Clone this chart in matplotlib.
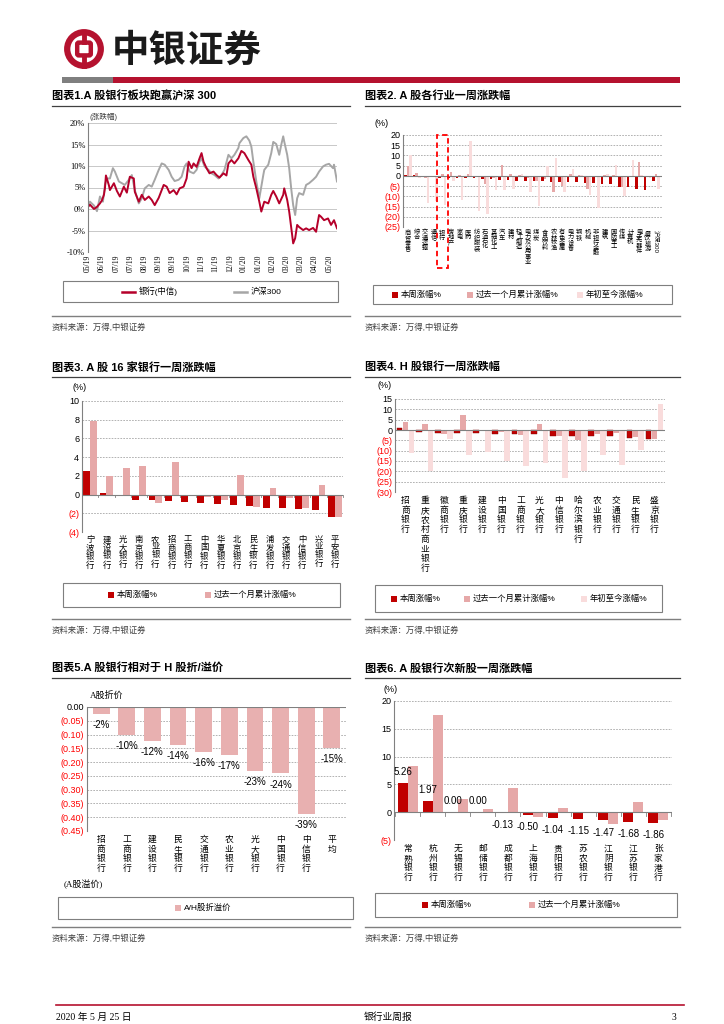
import numpy as np
import matplotlib
matplotlib.use('Agg')
import matplotlib.pyplot as plt
from matplotlib.patches import Rectangle, Circle, FancyBboxPatch
from matplotlib.lines import Line2D

plt.rcParams['font.family'] = ['Liberation Sans', 'Noto Sans CJK SC', 'DejaVu Sans']
plt.rcParams['axes.unicode_minus'] = False

W, H = 724, 1024
DARK = '#C00000'
MID = '#E6A8A8'
LIGHT = '#F9DCDC'
NEG = '#FF0000'
GRID = '#A6A6A6'
BRAND = '#B5122F'

# ---------------- data ----------------
# chart 1: cumulative return (%), (trading day, value)
bank_line = [(0, 0.5), (2, 1.0), (6, 0.0), (9, 0.5), (12, 1.3), (14, 2.0), (16, 3.3), (17, 4.8), (18, 7.8),
             (21, 5.5), (22, 4.4), (26, 6.0), (29, 4.2), (32, 2.9), (36, 5.2), (39, 3.8), (42, 7.5), (46, 7.1),
             (47, 4.0), (51, 1.7), (54, 3.3), (57, 2.1), (61, 2.9), (64, 2.1), (67, 0.9), (71, 2.6), (76, 5.6),
             (79, 5.2), (82, 3.7), (86, 4.4), (89, 3.4), (92, 4.8), (96, 5.2), (99, 7.1), (101, 11.0), (104, 9.5),
             (106, 10.6), (109, 9.8), (112, 11.8), (114, 13.0), (116, 11.0), (119, 9.5), (122, 8.3), (126, 8.7),
             (129, 7.9), (132, 7.3), (136, 8.3), (139, 7.8), (141, 10.6), (144, 11.4), (147, 10.6), (151, 11.8),
             (154, 13.5), (157, 13.0), (161, 11.4), (164, 10.3), (166, 7.5), (169, 4.8), (172, 1.7), (174, -0.6),
             (177, 1.7), (181, 1.3), (184, 3.3), (186, 4.2), (189, 2.9), (192, 1.3), (196, 3.3), (197, 4.8),
             (200, 2.1), (202, -0.6), (205, -6.1), (206, -8.0), (208, -6.8), (210, -3.7), (212, -4.2), (216, -4.9),
             (219, -4.5), (222, -4.9), (226, -4.4), (229, -5.3), (232, -1.4), (234, -1.8), (237, -2.6), (241, -2.2),
             (244, -3.7), (247, -2.6), (250, -4.5)]
hs300_line = [(0, 0.5), (2, 1.7), (6, 0.8), (9, -0.5), (12, 2.9), (15, 1.7), (17, 5.6), (19, 7.1), (22, 7.1),
              (25, 9.5), (27, 8.7), (31, 6.4), (34, 6.0), (37, 5.6), (41, 6.8), (44, 7.9), (47, 4.4), (51, 1.3),
              (54, 2.5), (57, 4.8), (61, 5.6), (64, 5.2), (67, 6.8), (71, 9.1), (74, 10.6), (77, 10.3), (81, 9.1),
              (84, 7.5), (87, 6.5), (91, 6.8), (94, 7.5), (97, 9.9), (99, 10.6), (102, 8.7), (106, 8.3), (109, 9.1),
              (112, 11.0), (114, 11.8), (117, 9.9), (121, 9.1), (124, 8.3), (127, 7.9), (131, 7.1), (134, 7.9),
              (137, 9.1), (141, 12.6), (144, 11.8), (147, 12.6), (151, 14.2), (152, 15.3), (156, 16.5), (159, 16.9),
              (162, 15.9), (164, 14.5), (166, 11.0), (169, 6.4), (172, 2.5), (176, 7.9), (177, 9.1), (181, 10.3),
              (184, 13.0), (186, 15.6), (189, 15.1), (192, 12.6), (194, 14.9), (196, 16.9), (197, 15.7), (200, 12.6),
              (202, 9.5), (204, 4.8), (206, 0.9), (208, -1.4), (210, 2.5), (212, 3.7), (216, 3.3), (219, 5.6),
              (222, 6.0), (226, 6.8), (229, 7.5), (232, 8.7), (236, 9.9), (239, 10.3), (242, 10.5), (246, 9.5),
              (247, 10.3), (250, 6.4)]
date_labels = ['05/19', '06/19', '07/19', '07/19', '08/19', '09/19', '09/19', '10/19', '11/19', '11/19',
               '12/19', '01/20', '01/20', '02/20', '03/20', '03/20', '04/20', '05/20']

# chart 2: industries
ind_labels = ['商贸零售', '综合', '交通运输', '通信', '银行', '房地产', '家电', '医药', '纺织服装', '石油石化',
              '基础化工', '汽车', '建材', '轻工制造', '电力及公用事业', '煤炭', '食品饮料', '农林牧渔', '有色金属',
              '电力设备', '钢铁', '机械', '非银行金融', '建筑', '国防军工', '传媒', '计算机', '电子元器件',
              '餐饮旅游', '沪深300']
ind_week = [0.4, 0.2, -0.6, -0.7, -0.8, -0.9, -1.0, -1.1, -1.2, -1.5, -1.7, -1.9, -2.1, -2.3, -2.5, -2.6, -2.7,
            -2.8, -2.9, -3.0, -3.1, -3.3, -3.5, -3.8, -4.1, -5.3, -5.5, -6.3, -6.8, -2.4]
ind_month = [5.0, 1.5, -1.0, -0.5, 1.0, 2.0, 0.5, 1.0, -0.5, -4.2, -1.0, 5.4, 1.0, 0.3, -1.0, -2.5, -1.5, -8.0,
             -5.0, 1.0, 0.5, -6.5, 0.0, 0.5, 0.5, -5.5, 0.0, 6.7, -0.5, 1.0]
ind_ytd = [10.0, -1.0, -13.3, -12.5, -14.0, -2.5, -11.7, 17.0, -17.4, -18.4, -6.8, -7.0, -6.3, 1.0, -8.0, -14.5,
           4.9, 8.9, -8.0, 3.4, 0.5, -9.4, -15.8, 1.0, 5.4, -10.0, 7.8, 0.5, -1.0, -6.5]

# chart 3: 16 A-share banks
a_banks = ['宁波银行', '建设银行', '光大银行', '南京银行', '农业银行', '招商银行', '工商银行', '中国银行',
           '华夏银行', '北京银行', '民生银行', '浦发银行', '交通银行', '中信银行', '兴业银行', '平安银行']
a_week = [2.53, 0.18, 0.0, -0.53, -0.60, -0.68, -0.78, -0.90, -0.96, -1.07, -1.17, -1.39, -1.39, -1.57, -1.70, -2.38]
a_month = [7.86, 2.00, 2.80, 3.10, -0.90, 3.45, 0.0, -0.25, -0.60, 2.10, -1.30, 0.75, -0.35, -1.39, 1.00, -2.42]

# chart 4: H-share banks
h_banks = ['招商银行', '重庆农村商业银行', '徽商银行', '重庆银行', '建设银行', '中国银行', '工商银行', '光大银行',
           '中信银行', '哈尔滨银行', '农业银行', '交通银行', '民生银行', '盛京银行']
h_week = [0.8, -1.1, -1.3, -1.6, -1.6, -1.8, -2.0, -2.1, -2.8, -2.8, -2.9, -3.1, -3.7, -4.5]
h_month = [3.7, 2.9, -2.0, 7.3, -0.3, -1.1, -2.6, 2.8, -2.9, -4.9, -2.1, -1.6, -3.2, -4.4]
h_ytd = [-11.0, -19.9, -4.4, -12.3, -10.8, -15.0, -17.6, -15.8, -23.1, -19.9, -11.9, -16.9, -9.8, 12.7]

# chart 5: A/H premium
ah_banks = ['招商银行', '工商银行', '建设银行', '民生银行', '交通银行', '农业银行', '光大银行', '中国银行',
            '中信银行', '平均']
ah_prem = [-0.024, -0.100, -0.124, -0.139, -0.163, -0.174, -0.231, -0.241, -0.388, -0.148]

# chart 6: newly listed banks
new_banks = ['常熟银行', '杭州银行', '无锡银行', '邮储银行', '成都银行', '上海银行', '贵阳银行', '苏农银行',
             '江阴银行', '江苏银行', '张家港行']
new_week = [5.26, 1.97, 0.00, 0.00, -0.13, -0.50, -1.04, -1.15, -1.47, -1.68, -1.86]
new_month = [8.26, 17.4, 2.3, 0.5, 4.4, -0.85, 0.7, 0.0, -2.2, 1.9, -1.45]

# ---------------- helpers ----------------
fig = plt.figure(figsize=(W / 100, H / 100), dpi=100)


def box(l, t, r, b):
    return [l / W, 1 - b / H, (r - l) / W, (b - t) / H]


def ftext(x, y, s, **kw):
    kw.setdefault('va', 'center')
    fig.text(x / W, 1 - y / H, s, **kw)


def hline(x0, x1, y, color='#404040', lw=0.8):
    fig.add_artist(Line2D([x0 / W, x1 / W], [1 - y / H, 1 - y / H], color=color, lw=lw))


def vert(s):
    return '\n'.join(s)


def paren(v, fmt='{:g}'):
    return '(' + fmt.format(abs(v)) + ')' if v < -1e-9 else fmt.format(abs(v))


def legend_box(l, t, r, b, items):
    fig.add_artist(Rectangle((l / W, 1 - b / H), (r - l) / W, (b - t) / H, transform=fig.transFigure,
                             fill=False, ec='#7F7F7F', lw=0.8))
    yc = (t + b) / 2
    for x, color, label, kind in items:
        if kind == 'line':
            fig.add_artist(Line2D([x / W, (x + 13) / W], [1 - yc / H] * 2, color=color, lw=1.8))
            ftext(x + 17, yc, label, fontsize=6)
        else:
            fig.add_artist(Rectangle((x / W, 1 - (yc + 3) / H), 6 / W, 6 / H, transform=fig.transFigure,
                                     color=color, lw=0))
            ftext(x + 9, yc, label, fontsize=6)


def bar_axes(rect, ylim, yticks, fmt='{:g}'):
    ax = fig.add_axes(box(*rect))
    ax.set_ylim(*ylim)
    ax.set_yticks(yticks)
    ax.set_yticklabels([paren(v, fmt) for v in yticks], fontsize=6.5)
    for lab, v in zip(ax.get_yticklabels(), yticks):
        lab.set_color(NEG if v < -1e-9 else 'black')
    for v in yticks:
        ax.axhline(v, color=GRID, lw=0.6, ls=(0, (2, 1.5)), zorder=0)
    ax.axhline(0, color='#808080', lw=0.8, zorder=3)
    for s in ['top', 'right', 'bottom']:
        ax.spines[s].set_visible(False)
    ax.spines['left'].set_color('#808080')
    ax.tick_params(axis='y', length=0, pad=2)
    ax.tick_params(axis='x', length=0)
    return ax


def boundary_ticks(ax, n, y0, dy):
    for i in range(n + 1):
        ax.plot([i - 0.5, i - 0.5], [y0, y0 - dy], color='#808080', lw=0.6, clip_on=False, zorder=3)


# ---------------- header / footer ----------------
lg = fig.add_axes(box(64, 29, 104, 69))
lg.set_xlim(-1, 1)
lg.set_ylim(-1, 1)
lg.set_aspect('equal')
lg.axis('off')
lg.add_patch(Circle((0, 0), 0.84, fill=False, ec=BRAND, lw=4.5))
lg.add_patch(FancyBboxPatch((-0.26, -0.24), 0.52, 0.48, boxstyle='round,pad=0.08', fill=False, ec=BRAND, lw=3.2))
lg.plot([0, 0], [0.33, 0.84], color=BRAND, lw=3.5)
lg.plot([0, 0], [-0.33, -0.84], color=BRAND, lw=3.5)
ftext(112, 50, '中银证券', fontsize=27, family=['Noto Sans CJK SC'], weight='bold', color='#1A1A1A')
fig.add_artist(Rectangle((62 / W, 1 - 83 / H), 51 / W, 6 / H, transform=fig.transFigure, color='#7F7F7F', lw=0))
fig.add_artist(Rectangle((113 / W, 1 - 83 / H), 567 / W, 6 / H, transform=fig.transFigure, color=BRAND, lw=0))

hline(56, 684, 1005, color=BRAND, lw=1.2)
ftext(56, 1017, '2020 年 5 月 25 日', fontsize=7, family=['Liberation Serif', 'Noto Sans CJK SC'])
ftext(388, 1017, '银行业周报', fontsize=7, ha='center')
ftext(676, 1017, '3', fontsize=7, ha='right', family=['Liberation Serif'])

# titles, rules and sources
titles = [(52, 96, '图表1.A 股银行板块跑赢沪深 300'), (365, 96, '图表2. A 股各行业一周涨跌幅'),
          (52, 367, '图表3. A 股 16 家银行一周涨跌幅'), (365, 367, '图表4. H 股银行一周涨跌幅'),
          (52, 668, '图表5.A 股银行相对于 H 股折/溢价'), (365, 668, '图表6. A 股银行次新股一周涨跌幅')]
for x, y, s in titles:
    ftext(x, y, s, fontsize=8, weight='bold')
    hline(x, x + (298 if x < 100 else 315), y + 10, color='#404040', lw=0.9)
for y in (316, 619, 927):
    for x0, x1 in ((52, 350), (365, 680)):
        hline(x0, x1, y, color='#7F7F7F', lw=1.0)
        ftext(x0, y + 12, '资料来源：万得,中银证券', fontsize=6, color='#404040')

# ---------------- chart 1 ----------------
ax1 = fig.add_axes(box(88, 123, 337, 252))
hd, hv = zip(*hs300_line)
bd, bv = zip(*bank_line)
ax1.plot(hd, hv, color='#A6A6A6', lw=1.4)
ax1.plot(bd, bv, color='#B5002A', lw=1.4)
ax1.set_xlim(0, 250)
ax1.set_ylim(-10, 20)
yt1 = np.arange(-10, 21, 5)
ax1.set_yticks(yt1)
ax1.set_yticklabels([f'{v}%' for v in yt1], fontsize=6, fontfamily='Liberation Serif')
ax1.yaxis.grid(True, color='#BFBFBF', lw=0.6)
ax1.set_axisbelow(True)
ax1.set_xticks(np.arange(len(date_labels)) * 14.25)
ax1.set_xticklabels(date_labels, rotation=90, fontsize=5.5, fontfamily='Liberation Serif')
for s in ['top', 'right', 'bottom']:
    ax1.spines[s].set_visible(False)
ax1.spines['left'].set_color('#808080')
ax1.tick_params(length=0, pad=2)
ftext(90, 117, '(涨跌幅)', fontsize=5.5, color='#404040')
legend_box(63, 281, 338, 302, [(122, '#B5002A', '银行(中信)', 'line'), (234, '#A6A6A6', '沪深300', 'line')])

# ---------------- chart 2 ----------------
x2 = np.arange(len(ind_labels))
ax2 = bar_axes((403, 135, 662, 227), (-25, 20), np.arange(-25, 21, 5))
ax2.bar(x2 - 0.3, ind_week, 0.3, color=DARK, zorder=2)
ax2.bar(x2, ind_month, 0.3, color=MID, zorder=2)
ax2.bar(x2 + 0.3, ind_ytd, 0.3, color=LIGHT, zorder=2)
ax2.set_xlim(-0.6, len(ind_labels) - 0.3)
ax2.set_xticks(x2)
ax2.set_xticklabels([vert(s) if s != '沪深300' else s for s in ind_labels], fontsize=4.5, va='top',
                    linespacing=0.95)
ax2.get_xticklabels()[-1].set_rotation(270)
ax2.tick_params(axis='x', pad=2)
bank_i = ind_labels.index('银行')
ax2.add_patch(Rectangle((bank_i - 0.62, -45), 1.24, 65, fill=False, ec='#FF0000', lw=1.3, ls=(0, (3, 2)),
                        clip_on=False, zorder=5))
ftext(382, 124, '(%)', fontsize=6.5, ha='center')
legend_box(373, 285, 672, 304, [(392, DARK, '本周涨幅%', 'sq'), (467, MID, '过去一个月累计涨幅%', 'sq'),
                                (577, LIGHT, '年初至今涨幅%', 'sq')])

# ---------------- chart 3 ----------------
x3 = np.arange(len(a_banks))
ax3 = bar_axes((82, 401, 343, 532), (-4, 10), np.arange(-4, 11, 2))
ax3.bar(x3 - 0.21, a_week, 0.42, color=DARK, zorder=2)
ax3.bar(x3 + 0.21, a_month, 0.42, color=MID, zorder=2)
ax3.set_xlim(-0.5, len(a_banks) - 0.5)
ax3.set_xticks(x3)
ax3.set_xticklabels([vert(s) for s in a_banks], fontsize=6, va='top', linespacing=1.05)
ax3.tick_params(axis='x', pad=3)
boundary_ticks(ax3, len(a_banks), 0, 0.25)
ftext(80, 388, '(%)', fontsize=6.5, ha='center')
legend_box(63, 583, 340, 607, [(108, DARK, '本周涨幅%', 'sq'), (205, MID, '过去一个月累计涨幅%', 'sq')])

# ---------------- chart 4 ----------------
x4 = np.arange(len(h_banks))
ax4 = bar_axes((395, 399, 665, 492), (-30, 15), np.arange(-30, 16, 5))
ax4.bar(x4 - 0.31, h_week, 0.3, color=DARK, zorder=2, ec='#800000', lw=0.3)
ax4.bar(x4, h_month, 0.3, color=MID, zorder=2)
ax4.bar(x4 + 0.31, h_ytd, 0.3, color=LIGHT, zorder=2)
ax4.set_xlim(-0.55, len(h_banks) - 0.45)
ax4.set_xticks(x4)
ax4.set_xticklabels([vert(s) for s in h_banks], fontsize=6.3, va='top', linespacing=1.1)
ax4.tick_params(axis='x', pad=3)
ftext(385, 385, '(%)', fontsize=6.5, ha='center')
legend_box(375, 585, 662, 612, [(391, DARK, '本周涨幅%', 'sq'), (464, MID, '过去一个月累计涨幅%', 'sq'),
                                (581, LIGHT, '年初至今涨幅%', 'sq')])

# ---------------- chart 5 ----------------
x5 = np.arange(len(ah_banks))
ax5 = bar_axes((87, 707, 346, 831), (-0.45, 0), np.round(np.arange(-0.45, 0.001, 0.05), 2), fmt='{:.2f}')
ax5.bar(x5, ah_prem, 0.66, color='#E8B0B0', zorder=2)
for xi, v in zip(x5, ah_prem):
    ax5.annotate(f'{v:.0%}', (xi, v), xytext=(0, -8), textcoords='offset points', ha='center', va='center',
                 fontsize=7, zorder=4)
ax5.set_xlim(-0.55, len(ah_banks) - 0.45)
ax5.set_xticks(x5)
ax5.set_xticklabels([vert(s) for s in ah_banks], fontsize=6.3, va='top', linespacing=1.1)
ax5.tick_params(axis='x', pad=3)
ftext(90, 695, 'A股折价', fontsize=6.5, family=['Liberation Serif', 'Noto Sans CJK SC'])
ftext(64, 884, '(A股溢价)', fontsize=6.5, family=['Liberation Serif', 'Noto Sans CJK SC'])
legend_box(58, 897, 353, 919, [(175, '#E8B0B0', 'A/H股折溢价', 'sq')])

# ---------------- chart 6 ----------------
x6 = np.arange(len(new_banks))
ax6 = bar_axes((394, 701, 672, 840), (-5, 20), np.arange(-5, 21, 5))
ax6.bar(x6 - 0.2, new_week, 0.4, color=DARK, zorder=2)
ax6.bar(x6 + 0.2, new_month, 0.4, color=MID, zorder=2)
for xi, v in zip(x6, new_week):
    ax6.annotate(f'{v:.2f}', (xi - 0.2, v), xytext=(0, 8 if v >= 0 else -9), textcoords='offset points',
                 ha='center', va='center', fontsize=7, zorder=4)
ax6.set_xlim(-0.55, len(new_banks) - 0.45)
ax6.set_xticks(x6)
ax6.set_xticklabels([vert(s) for s in new_banks], fontsize=6.3, va='top', linespacing=1.1)
ax6.tick_params(axis='x', pad=3)
boundary_ticks(ax6, len(new_banks), 0, 0.6)
ftext(391, 690, '(%)', fontsize=6.5, ha='center')
legend_box(375, 893, 677, 917, [(422, DARK, '本周涨幅%', 'sq'), (529, MID, '过去一个月累计涨幅%', 'sq')])

fig.savefig('out.png', dpi=100)
